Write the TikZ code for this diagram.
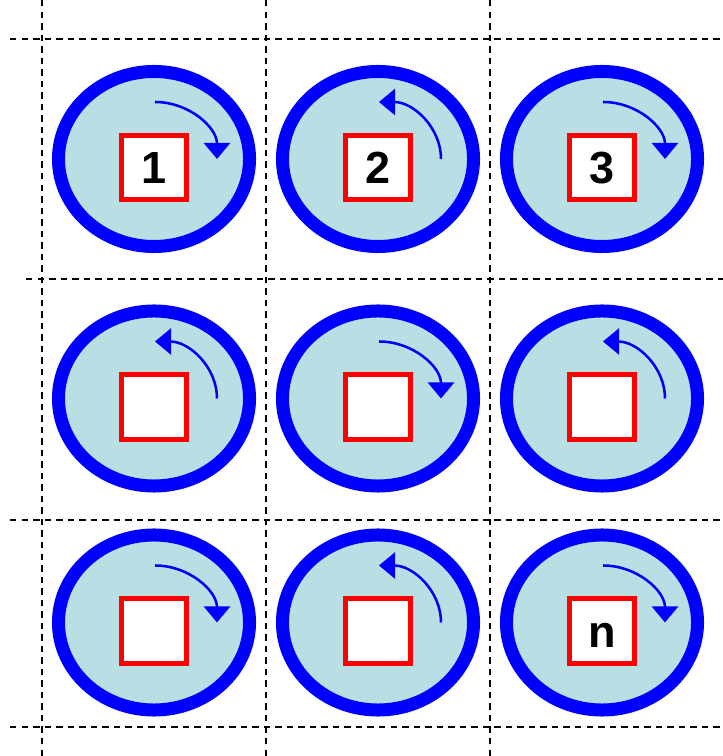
\documentclass[tikz,border=0pt]{standalone}
\usepackage{fontspec}
\setsansfont{Liberation Sans}
\usepackage{tikz}
\usetikzlibrary{shapes.geometric, arrows.meta}
\usepackage{xcolor}
\definecolor{discoazul}{RGB}{0,0,255}
\definecolor{discofundo}{RGB}{185,223,228}
\definecolor{caixavermelha}{RGB}{255,0,0}
\tikzset{
    grade/.style={black, line width=1.7pt, dash pattern=on 4.6pt off 3.6pt},
    disco/.style={ellipse, draw=discoazul, fill=discofundo, line width=0.325cm,
        minimum width=4.775cm, minimum height=4.375cm, inner sep=0pt},
    caixa/.style={draw=caixavermelha, fill=white, line width=0.125cm,
        minimum size=1.6cm, inner sep=0pt, text height=0.8cm, text depth=0pt,
        font=\sffamily\bfseries\fontsize{32}{36}\selectfont},
    giro/.style={discoazul, line width=1.8pt},
    horario/.style={-{Triangle[length=0.4cm, width=0.65cm]}},
    antihorario/.style={{Triangle[length=0.4cm, width=0.65cm]}-}
}

\begin{document}
\begin{tikzpicture}[x=0.025cm, y=0.025cm]
    \useasboundingbox (0,0) rectangle (723,756);
    % grade tracejada
    \foreach \x in {42,266,490}
        \draw[grade] (\x,0) -- (\x,756);
    \foreach \y/\xa in {717/10, 477/26, 236/10, 29/10}
        \draw[grade] (\xa,\y) -- (723,\y);
    % discos
    \foreach \r/\c/\cx/\cy/\sentido/\rotulo in {
        1/1/154/597/horario/1, 1/2/378/597/antihorario/2, 1/3/602/597/horario/3,
        2/1/154/357.5/antihorario/{}, 2/2/378/357.5/horario/{}, 2/3/602/357.5/antihorario/{},
        3/1/154/133.5/horario/{}, 3/2/378/133.5/antihorario/{}, 3/3/602/133.5/horario/n}
    {
        \node[disco] (disco-\r-\c) at (\cx,\cy) {};
        \node[caixa] (caixa-\r-\c) at (\cx,\cy-8.5) {\rotulo};
        \draw[giro, \sentido] (\cx+1,\cy+57) arc[start angle=90, end angle=0, x radius=62, y radius=57];
    }
\end{tikzpicture}
\end{document}
